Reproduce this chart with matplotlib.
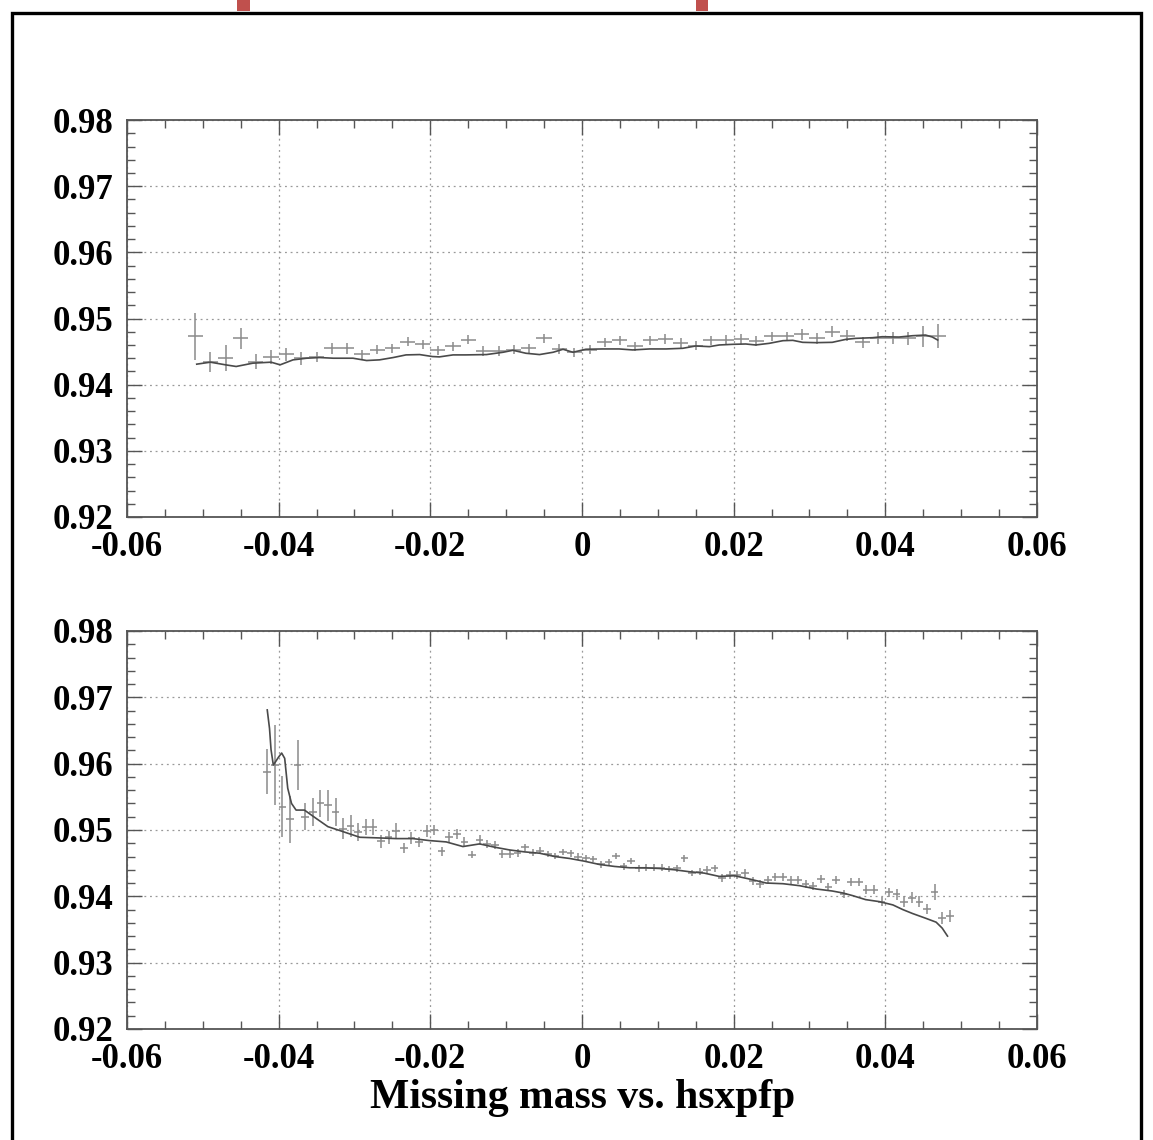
# plot.py
# ---------------------------------------
# Missing mass vs. hsxpfp
#   - top: first setting, bottom: second setting
#   - crosses = data with errors, line = model
# ---------------------------------------

import numpy as np
import matplotlib
matplotlib.use("Agg")
import matplotlib.pyplot as plt
from matplotlib.patches import Rectangle
from matplotlib.ticker import MultipleLocator, FuncFormatter

plt.rcParams["font.family"] = ["Liberation Serif", "DejaVu Serif"]
plt.rcParams["font.weight"] = "bold"

# ---- top panel data (bins 0.002 wide, first centre -0.051) ----
top_first_bin = -0.051
top_bin_width = 0.002
top_y = [0.9473, 0.9434, 0.9440, 0.9470, 0.9435, 0.9442, 0.9446, 0.9440, 0.9442, 0.9455,
         0.9455, 0.9446, 0.9453, 0.9455, 0.9465, 0.9461, 0.9452, 0.9458, 0.9468, 0.9451,
         0.9451, 0.9453, 0.9455, 0.9470, 0.9454, 0.9449, 0.9453, 0.9464, 0.9467, 0.9458,
         0.9467, 0.9469, 0.9463, 0.9459, 0.9467, 0.9468, 0.9469, 0.9466, 0.9473, 0.9473,
         0.9476, 0.9470, 0.9480, 0.9474, 0.9464, 0.9471, 0.9470, 0.9470, 0.9473, 0.9473]
top_err = [0.0035, 0.0015, 0.0020, 0.0016, 0.0011, 0.0010, 0.0010, 0.0010, 0.0008, 0.0008,
           0.0008, 0.0007, 0.0007, 0.0007, 0.0007, 0.0007, 0.0007, 0.0007, 0.0007, 0.0007,
           0.0007, 0.0007, 0.0007, 0.0007, 0.0007, 0.0007, 0.0007, 0.0007, 0.0007, 0.0007,
           0.0007, 0.0007, 0.0007, 0.0007, 0.0007, 0.0007, 0.0007, 0.0007, 0.0007, 0.0007,
           0.0008, 0.0008, 0.0008, 0.0008, 0.0008, 0.0009, 0.0009, 0.0010, 0.0016, 0.0018]

top_line_x = [-0.0508, -0.0490, -0.0470, -0.0456, -0.0434, -0.0410, -0.0398, -0.0381, -0.0363, -0.0346,
              -0.0328, -0.0302, -0.0284, -0.0267, -0.0249, -0.0232, -0.0214, -0.0197, -0.0188, -0.0170,
              -0.0153, -0.0126, -0.0104, -0.0091, -0.0074, -0.0056, -0.0038, -0.0025, -0.0012, 0.0005,
              0.0027, 0.0049, 0.0067, 0.0089, 0.0111, 0.0133, 0.0150, 0.0168, 0.0181, 0.0199,
              0.0216, 0.0229, 0.0247, 0.0265, 0.0278, 0.0291, 0.0308, 0.0330, 0.0348, 0.0361,
              0.0383, 0.0396, 0.0418, 0.0436, 0.0453, 0.0462, 0.0469]
top_line_y = [0.9431, 0.9434, 0.9430, 0.94275, 0.94325, 0.9434, 0.9430, 0.94375, 0.9440, 0.9441,
              0.9440, 0.9440, 0.94365, 0.94375, 0.9441, 0.9445, 0.94455, 0.94425, 0.9442, 0.9445,
              0.9445, 0.94455, 0.9449, 0.9452, 0.94475, 0.94455, 0.9449, 0.94535, 0.9449, 0.94535,
              0.9454, 0.9454, 0.94525, 0.9454, 0.9454, 0.9455, 0.94585, 0.94575, 0.9460, 0.9461,
              0.94615, 0.9460, 0.94625, 0.94665, 0.9467, 0.9464, 0.94635, 0.9464, 0.94685, 0.9470,
              0.9471, 0.94725, 0.9472, 0.9474, 0.9475, 0.9472, 0.94675]

# ---- bottom panel data (bins 0.001 wide, first centre -0.0415) ----
bot_first_bin = -0.0415
bot_bin_width = 0.001
bot_y = [0.9588, 0.9598, 0.9535, 0.9516, 0.9598, 0.9520, 0.9527, 0.9540, 0.9537, 0.9527,
         0.9502, 0.9506, 0.9497, 0.9505, 0.9505, 0.9483, 0.9489, 0.9498, 0.9473, 0.9488,
         0.9482, 0.9498, 0.9500, 0.9468, 0.9489, 0.9494, 0.9482, 0.9463, 0.9485, 0.9479,
         0.9477, 0.9464, 0.9464, 0.9466, 0.9474, 0.9466, 0.9469, 0.9464, 0.9461, 0.9467,
         0.9465, 0.9460, 0.9457, 0.9456, 0.9448, 0.9451, 0.9461, 0.9445, 0.9453, 0.9442,
         0.9443, 0.9443, 0.9443, 0.9441, 0.9442, 0.9457, 0.9435, 0.9437, 0.9440, 0.9442,
         0.9428, 0.9432, 0.9432, 0.9435, 0.9423, 0.9419, 0.9424, 0.9429, 0.9429, 0.9424,
         0.9424, 0.9418, 0.9415, 0.9426, 0.9414, 0.9424, 0.9404, 0.9421, 0.9421, 0.9410,
         0.9410, 0.9392, 0.9406, 0.9403, 0.9392, 0.9398, 0.9392, 0.9381, 0.9406, 0.9367,
         0.9370]
bot_err = [0.0034, 0.0060, 0.0046, 0.0035, 0.0037, 0.0020, 0.0021, 0.0021, 0.0024, 0.0021,
           0.0016, 0.0016, 0.0013, 0.0012, 0.0012, 0.0010, 0.0010, 0.0012, 0.0008, 0.0009,
           0.0008, 0.0009, 0.0008, 0.0007, 0.0008, 0.0008, 0.0007, 0.0006, 0.0007, 0.0006,
           0.0006, 0.0006, 0.0006, 0.0006, 0.0005, 0.0005, 0.0005, 0.0005, 0.0005, 0.0005,
           0.0005, 0.0005, 0.0005, 0.0005, 0.0005, 0.0005, 0.0005, 0.0005, 0.0005, 0.0005,
           0.0005, 0.0005, 0.0005, 0.0005, 0.0005, 0.0005, 0.0005, 0.0005, 0.0005, 0.0005,
           0.0006, 0.0006, 0.0006, 0.0006, 0.0006, 0.0006, 0.0006, 0.0006, 0.0006, 0.0006,
           0.0006, 0.0006, 0.0006, 0.0006, 0.0006, 0.0006, 0.0006, 0.0006, 0.0006, 0.0007,
           0.0007, 0.0007, 0.0007, 0.0008, 0.0008, 0.0008, 0.0008, 0.0008, 0.0012, 0.0009,
           0.0009]

bot_line_x = [-0.0415, -0.0412, -0.0410, -0.0407, -0.0404, -0.0400, -0.0396, -0.0392, -0.0388, -0.0383,
              -0.0377, -0.0366, -0.0350, -0.0335, -0.0319, -0.0306, -0.0293, -0.0267, -0.0245, -0.0223,
              -0.0201, -0.0179, -0.0157, -0.0135, -0.0115, -0.0096, -0.0076, -0.0056, -0.0036, -0.0016,
              0.0003, 0.0023, 0.0043, 0.0063, 0.0082, 0.0102, 0.0122, 0.0142, 0.0161, 0.0181,
              0.0201, 0.0221, 0.0243, 0.0265, 0.0287, 0.0309, 0.0330, 0.0344, 0.0357, 0.0374,
              0.0392, 0.0410, 0.0423, 0.0436, 0.0453, 0.0467, 0.0475, 0.0482]
bot_line_y = [0.9681, 0.9653, 0.9621, 0.9598, 0.9603, 0.9610, 0.9616, 0.9608, 0.9563, 0.9540,
              0.9530, 0.9530, 0.9517, 0.9505, 0.9499, 0.9494, 0.9489, 0.9488, 0.9487, 0.9487,
              0.9484, 0.9482, 0.9475, 0.9479, 0.9474, 0.9470, 0.9467, 0.9465, 0.9460, 0.9457,
              0.9453, 0.9448, 0.9445, 0.9443, 0.9443, 0.9442, 0.9440, 0.9437, 0.9435, 0.9430,
              0.9431, 0.9426, 0.9420, 0.9419, 0.9416, 0.9411, 0.9408, 0.9405, 0.9401, 0.9395,
              0.9392, 0.9387, 0.9380, 0.9374, 0.9367, 0.9361, 0.9352, 0.9340]

x_label = "Missing mass vs. hsxpfp"


def fmt_tick(v, pos):
    # ROOT style labels: 0 instead of 0.00, two decimals otherwise
    if abs(v) < 1e-9:
        return "0"
    return f"{v:.2f}"


def draw_panel(ax, first_bin, width, y, err, line_x, line_y):
    x = first_bin + width * np.arange(len(y))
    ax.errorbar(x, y, yerr=err, xerr=width / 2, fmt="none",
                ecolor="#8a8a8a", elinewidth=1.1, capsize=0)
    ax.plot(line_x, line_y, color="#4a4a4a", lw=1.2)

    ax.set_xlim(-0.06, 0.06)
    ax.set_ylim(0.92, 0.98)
    ax.xaxis.set_major_locator(MultipleLocator(0.02))
    ax.xaxis.set_minor_locator(MultipleLocator(0.005))
    ax.yaxis.set_major_locator(MultipleLocator(0.01))
    ax.yaxis.set_minor_locator(MultipleLocator(0.002))
    ax.xaxis.set_major_formatter(FuncFormatter(fmt_tick))
    ax.yaxis.set_major_formatter(FuncFormatter(fmt_tick))

    ax.grid(True, which="major", linestyle=(0, (1.5, 3)), color="#999999", lw=0.9)
    ax.tick_params(which="both", direction="in", top=True, right=True,
                   colors="#555555", labelcolor="black", labelsize=25)
    ax.tick_params(which="major", length=11, width=1.0)
    ax.tick_params(axis="y", which="major", pad=10)
    ax.tick_params(axis="x", which="major", pad=10)
    ax.tick_params(which="minor", length=6, width=1.0)
    for s in ax.spines.values():
        s.set_color("#555555")
        s.set_linewidth(1.3)
    for lab in ax.get_xticklabels() + ax.get_yticklabels():
        lab.set_fontweight("bold")


def main():
    fig = plt.figure(figsize=(11.53, 11.40), dpi=100)

    # outer frame and small marks at top edge
    fig.patches.append(Rectangle((0.0104, -0.02), 0.979, 1.0086, transform=fig.transFigure,
                                 fill=False, edgecolor="black", lw=2.4))
    fig.patches.append(Rectangle((0.2056, 0.9904), 0.0113, 0.0096, transform=fig.transFigure,
                                 color="#c0504d", lw=0))
    fig.patches.append(Rectangle((0.6036, 0.9904), 0.0104, 0.0096, transform=fig.transFigure,
                                 color="#c0504d", lw=0))

    # top panel
    ax1 = fig.add_axes([0.1101, 0.5465, 0.7893, 0.3482])
    draw_panel(ax1, top_first_bin, top_bin_width, top_y, top_err, top_line_x, top_line_y)

    # bottom panel
    ax2 = fig.add_axes([0.1101, 0.0974, 0.7893, 0.3491])
    draw_panel(ax2, bot_first_bin, bot_bin_width, bot_y, bot_err, bot_line_x, bot_line_y)

    fig.text(0.505, 0.037, x_label, ha="center", va="center",
             fontsize=30, fontweight="bold")

    fig.savefig("out.png", dpi=100)


if __name__ == "__main__":
    main()
